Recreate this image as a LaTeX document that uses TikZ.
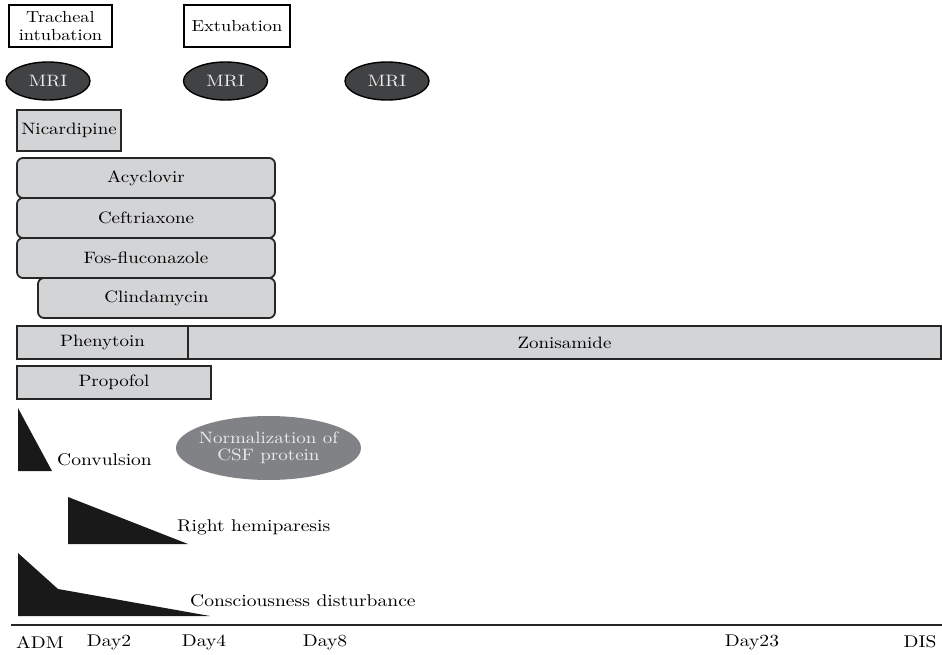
\documentclass[tikz,border=0pt]{standalone}
\usepackage{fontspec}
\setmainfont{lmroman10-regular}[Extension=.otf, FakeStretch=1.15]
\usetikzlibrary{shapes.geometric}
\definecolor{boxgray}{HTML}{D3D4D6}
\definecolor{mridark}{HTML}{414244}
\definecolor{csfgray}{HTML}{808285}
\tikzset{
  evbox/.style={draw=black, line width=1.8pt, fill=white, inner sep=0pt, align=center, font=\fontsize{16}{18}\selectfont},
  mri/.style={ellipse, draw=black, line width=1.4pt, fill=mridark, inner sep=0pt, text=white!92!black, font=\fontsize{16.5}{16}\selectfont},
  drug/.style={draw=black!85, line width=1.8pt, fill=boxgray, inner sep=0pt, font=\fontsize{16.5}{17}\selectfont},
  rdrug/.style={drug, rounded corners=6pt},
  sym/.style={fill=black!90, draw=none},
  lbl/.style={inner sep=0pt, font=\fontsize{17}{17}\selectfont},
}
\begin{document}
\begin{tikzpicture}[x=1pt,y=-1pt]
\useasboundingbox (0,0) rectangle (942,655);
% events
\node[evbox, minimum width=103pt, minimum height=42pt] (ti) at (60.5,26) {Tracheal\\intubation};
\node[evbox, minimum width=106pt, minimum height=42pt] (ex) at (237,26) {Extubation};
% MRI
\node[mri, minimum width=84pt, minimum height=38pt] (m1) at (48,81) {MRI};
\node[mri, minimum width=84pt, minimum height=38pt] (m2) at (225.5,81) {MRI};
\node[mri, minimum width=84pt, minimum height=38pt] (m3) at (387,81) {MRI};
% drugs
\node[drug, minimum width=104pt, minimum height=41pt] (nic) at (69,130.5) {Nicardipine};
\node[rdrug, minimum width=258pt, minimum height=40pt] (acy) at (146,178) {Acyclovir};
\node[rdrug, minimum width=258pt, minimum height=40pt] (cef) at (146,218) {Ceftriaxone};
\node[rdrug, minimum width=258pt, minimum height=40pt] (fos) at (146,258) {Fos-fluconazole};
\node[rdrug, minimum width=237pt, minimum height=40pt] (cli) at (156.5,298) {Clindamycin};
\node[drug, minimum width=171pt, minimum height=33pt] (phe) at (102.5,342.5) {Phenytoin};
\node[drug, minimum width=753pt, minimum height=33pt] (zon) at (564.5,342.5) {Zonisamide};
\node[drug, minimum width=194pt, minimum height=33pt] (pro) at (114,382.5) {Propofol};
% symptoms
\fill[sym] (18,408) -- (18,471) -- (52,471) -- cycle;
\node[lbl, anchor=west] (conv) at (57,460) {Convulsion};
\node[ellipse, fill=csfgray, draw=none, minimum width=185pt, minimum height=64pt, inner sep=-12pt, align=center, text=white!92!black, font=\fontsize{16.5}{17}\selectfont] (csf) at (268.5,448) {Normalization of\\CSF protein};
\fill[sym] (68,497) -- (68,544) -- (188,544) -- cycle;
\node[lbl, anchor=west] (rh) at (177,527) {Right hemiparesis};
\fill[sym] (18,553) -- (58,589) -- (210,616) -- (18,616) -- cycle;
\node[lbl, anchor=west] (cd) at (190,601) {Consciousness disturbance};
% axis
\coordinate (a0) at (11,625);
\coordinate (a1) at (942,625);
\draw[line width=2pt, black!85] (a0) -- (a1);
\node[lbl] (adm) at (40,642) {ADM};
\node[lbl] (d2) at (109,642) {Day2};
\node[lbl] (d4) at (204,642) {Day4};
\node[lbl] (d8) at (325,642) {Day8};
\node[lbl] (d23) at (752,642) {Day23};
\node[lbl] (dis) at (920,642) {DIS};
\end{tikzpicture}
\end{document}
